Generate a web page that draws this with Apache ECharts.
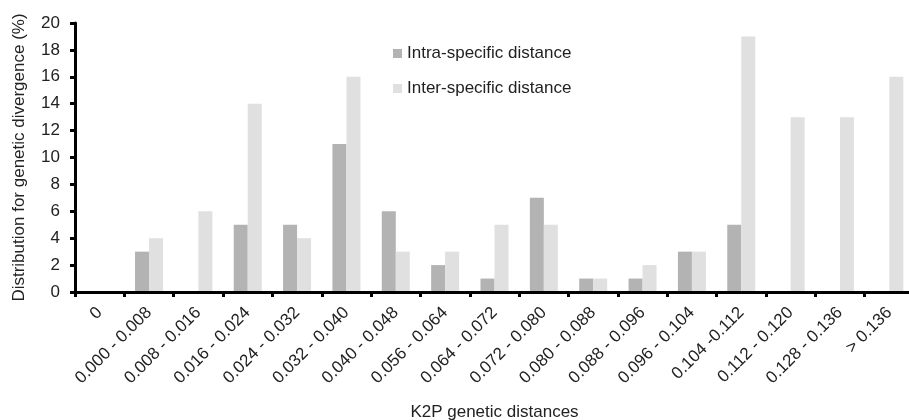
<!DOCTYPE html>
<html>
<head>
<meta charset="utf-8">
<script src="https://cdn.jsdelivr.net/npm/echarts@6/dist/echarts.min.js"></script>
<style>html,body{margin:0;padding:0;background:#fff}#c{width:909px;height:420px}</style>
</head>
<body>
<div id="c"></div>
<script>
const categories = ['0','0.000 - 0.008','0.008 - 0.016','0.016 - 0.024','0.024 - 0.032','0.032 - 0.040','0.040 - 0.048','0.056 - 0.064','0.064 - 0.072','0.072 - 0.080','0.080 - 0.088','0.088 - 0.096','0.096 - 0.104','0.104 -0.112','0.112 - 0.120','0.128 - 0.136','> 0.136'];
const intraValues = [0,3,0,5,5,11,6,2,1,7,1,1,3,5,0,0,0];
const interValues = [0,4,6,14,4,16,3,3,5,5,1,2,3,19,13,13,16];
const yTicks = {min:0, max:20, interval:2};

const chart = echarts.init(document.getElementById('c'), null, {renderer:'canvas'});
const font = 'Liberation Sans, Arial, sans-serif';
chart.setOption({
  animation:false,
  textStyle:{fontFamily:font},
  grid:{left:75, right:-5, top:23, bottom:128, containLabel:false, outerBoundsMode:'none'},
  legend:{
    orient:'vertical', left:388, top:40, itemGap:18, itemWidth:9, itemHeight:9,
    icon:'rect', textStyle:{fontSize:17, color:'#222', fontFamily:font},
    data:['Intra-specific distance','Inter-specific distance']
  },
  xAxis:{
    type:'category', data:categories, z:10,
    name:'K2P genetic distances', nameLocation:'middle', nameGap:112,
    nameTextStyle:{fontSize:17, color:'#222', fontFamily:font},
    axisLine:{lineStyle:{color:'#000', width:3}},
    axisTick:{show:true, length:5, lineStyle:{color:'#000', width:3}, alignWithLabel:false},
    axisLabel:{rotate:45, fontSize:17, color:'#222', margin:18, interval:0, fontFamily:font}
  },
  yAxis:{
    type:'value', min:yTicks.min, max:yTicks.max, interval:yTicks.interval, z:10,
    name:'Distribution for genetic divergence (%)', nameLocation:'middle', nameGap:47,
    nameTextStyle:{fontSize:17, color:'#222', fontFamily:font},
    axisLine:{show:true, lineStyle:{color:'#000', width:3}},
    axisTick:{show:true, length:5, lineStyle:{color:'#000', width:3}},
    axisLabel:{fontSize:17, color:'#222', margin:15, fontFamily:font},
    splitLine:{show:false}
  },
  series:[
    {name:'Intra-specific distance', type:'bar', data:intraValues, barWidth:14, barGap:'0%', itemStyle:{color:'#b3b3b3'}},
    {name:'Inter-specific distance', type:'bar', data:interValues, barWidth:14, barGap:'0%', itemStyle:{color:'#e0e0e0'}}
  ]
});
</script>
</body>
</html>
